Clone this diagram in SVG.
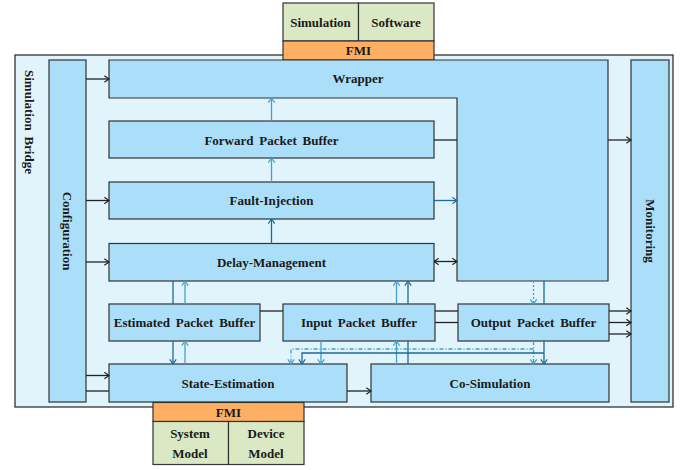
<svg xmlns="http://www.w3.org/2000/svg" width="691" height="470" viewBox="0 0 691 470">
<defs>
<style>
.box{fill:#ABDFF9;stroke:#333;stroke-width:1.2}
.outer{fill:#E1F3FB;stroke:#222;stroke-width:1.2}
.fmi{fill:#FDB063;stroke:#333;stroke-width:1.2}
.sw{fill:#DAE8C3;stroke:#333;stroke-width:1.2}
text{font-family:"Liberation Serif","Times New Roman",serif;font-weight:bold;font-size:13px;fill:#1a1a1a;text-anchor:middle;dominant-baseline:central;word-spacing:2.5px}
.k{stroke:#222;stroke-width:1.3;fill:none}
.lb{stroke:#45A0CC;stroke-width:1.3;fill:none}
.db{stroke:#1B6B99;stroke-width:1.3;fill:none}
.dot{stroke-dasharray:2,2}
.dd{stroke-dasharray:4,2,1,2}
</style>
<marker id="ak" viewBox="0 0 6 8" refX="5.5" refY="4" markerWidth="6" markerHeight="8" markerUnits="userSpaceOnUse" orient="auto-start-reverse"><path d="M0.8,0.8 L5.5,4 L0.8,7.2" fill="none" stroke="#222" stroke-width="1.2"/></marker>
<marker id="alb" viewBox="0 0 6 8" refX="5.5" refY="4" markerWidth="6" markerHeight="8" markerUnits="userSpaceOnUse" orient="auto"><path d="M0.8,0.8 L5.5,4 L0.8,7.2" fill="none" stroke="#45A0CC" stroke-width="1.2"/></marker>
<marker id="adb" viewBox="0 0 6 8" refX="5.5" refY="4" markerWidth="6" markerHeight="8" markerUnits="userSpaceOnUse" orient="auto"><path d="M0.8,0.8 L5.5,4 L0.8,7.2" fill="none" stroke="#1B6B99" stroke-width="1.2"/></marker>
</defs>

<g id="simulation-bridge">
<rect class="outer" x="15" y="55" width="658" height="352"/>
<text transform="translate(29,122) rotate(90)">Simulation Bridge</text>
</g>

<g id="fmi-top">
<rect class="sw" x="283" y="3" width="75.5" height="38"/>
<rect class="sw" x="358.5" y="3" width="75.5" height="38"/>
<rect class="fmi" x="283" y="41" width="151" height="19"/>
<text x="320.5" y="22">Simulation</text>
<text x="396" y="22">Software</text>
<text x="358.5" y="50.5">FMI</text>
</g>

<g id="configuration">
<rect class="box" x="49" y="60" width="37" height="342"/>
<text transform="translate(67.5,231) rotate(90)">Configuration</text>
</g>

<g id="monitoring">
<rect class="box" x="631" y="60" width="38" height="342"/>
<text transform="translate(650,231) rotate(90)">Monitoring</text>
</g>

<g id="wrapper">
<path class="box" d="M109,60 H608 V281 H457 V98 H109 Z"/>
<text x="358" y="78">Wrapper</text>
</g>

<g id="forward-packet-buffer">
<rect class="box" x="109" y="121" width="325" height="37"/>
<text x="271.5" y="140">Forward Packet Buffer</text>
</g>

<g id="fault-injection">
<rect class="box" x="109" y="182" width="325" height="37"/>
<text x="271.5" y="200.5">Fault-Injection</text>
</g>

<g id="delay-management">
<rect class="box" x="109" y="243.5" width="325" height="37.5"/>
<text x="271.5" y="262">Delay-Management</text>
</g>

<g id="estimated-packet-buffer">
<rect class="box" x="109" y="304" width="151" height="37"/>
<text x="184.5" y="322.5">Estimated Packet Buffer</text>
</g>

<g id="input-packet-buffer">
<rect class="box" x="283" y="304" width="152" height="37"/>
<text x="359" y="322.5">Input Packet Buffer</text>
</g>

<g id="output-packet-buffer">
<rect class="box" x="458" y="304" width="151" height="37"/>
<text x="533.5" y="322.5">Output Packet Buffer</text>
</g>

<g id="state-estimation">
<rect class="box" x="109" y="364" width="238" height="38"/>
<text x="228" y="383">State-Estimation</text>
</g>

<g id="co-simulation">
<rect class="box" x="371" y="364" width="238" height="38"/>
<text x="490" y="383">Co-Simulation</text>
</g>

<g id="fmi-bottom">
<rect class="fmi" x="153" y="402.5" width="151" height="19"/>
<rect class="sw" x="153" y="421.5" width="75.5" height="43"/>
<rect class="sw" x="228.5" y="421.5" width="75.5" height="43"/>
<text x="228.5" y="412">FMI</text>
<text x="190" y="433">System</text>
<text x="190" y="453">Model</text>
<text x="266" y="433">Device</text>
<text x="266" y="453">Model</text>
</g>

<g id="connectors">
<path class="k" d="M86,79 H109" marker-end="url(#ak)"/>
<path class="k" d="M86,200.5 H109" marker-end="url(#ak)"/>
<path class="k" d="M86,262 H109" marker-end="url(#ak)"/>
<path class="k" d="M86,375.5 H109" marker-end="url(#ak)"/>
<path class="k" d="M86,391 H109"/>
<path class="k" d="M434,140 H457"/>
<path class="k" d="M434,261.5 H457" marker-start="url(#ak)" marker-end="url(#ak)"/>
<path class="k" d="M608,140 H631" marker-end="url(#ak)"/>
<path class="k" d="M260,311 H283"/>
<path class="k" d="M435,311 H458"/>
<path class="k" d="M435,322.5 H458"/>
<path class="k" d="M609,311 H631" marker-end="url(#ak)"/>
<path class="k" d="M609,322.5 H631" marker-end="url(#ak)"/>
<path class="k" d="M609,334 H631" marker-end="url(#ak)"/>
<path class="k" d="M347,391 H371" marker-end="url(#ak)"/>

<path class="lb" d="M271.5,121 V98" marker-end="url(#alb)"/>
<path class="lb" d="M271.5,182 V158" marker-end="url(#alb)"/>
<path class="db" d="M271.5,243.5 V219" marker-end="url(#adb)"/>
<path class="db" d="M434,200.5 H457" marker-end="url(#adb)"/>

<path class="db" d="M173,281 V304"/>
<path class="lb" d="M185,304 V281" marker-end="url(#alb)"/>
<path class="db" d="M173,341 V364" marker-end="url(#adb)"/>
<path class="lb" d="M185,364 V341" marker-end="url(#alb)"/>

<path class="lb" d="M396.5,304 V281" marker-end="url(#alb)"/>
<path class="db" d="M408,304 V281" marker-end="url(#adb)"/>
<path class="lb" d="M321,341 V364" marker-end="url(#alb)"/>
<path class="lb" d="M396.5,364 V341" marker-end="url(#alb)"/>
<path class="db" d="M408,364 V341"/>

<path class="lb dot" d="M533.5,281 V304" marker-end="url(#alb)"/>
<path class="db" d="M544,281 V304"/>

<path class="lb dd" d="M533.5,341 V364" marker-end="url(#alb)"/>
<path class="lb dd" d="M533.5,349 H291 V364" marker-end="url(#alb)"/>
<path class="db" d="M544,341 V364" marker-end="url(#adb)"/>
<path class="db" d="M544,353 H302 V364" marker-end="url(#adb)"/>
</g>
</svg>
